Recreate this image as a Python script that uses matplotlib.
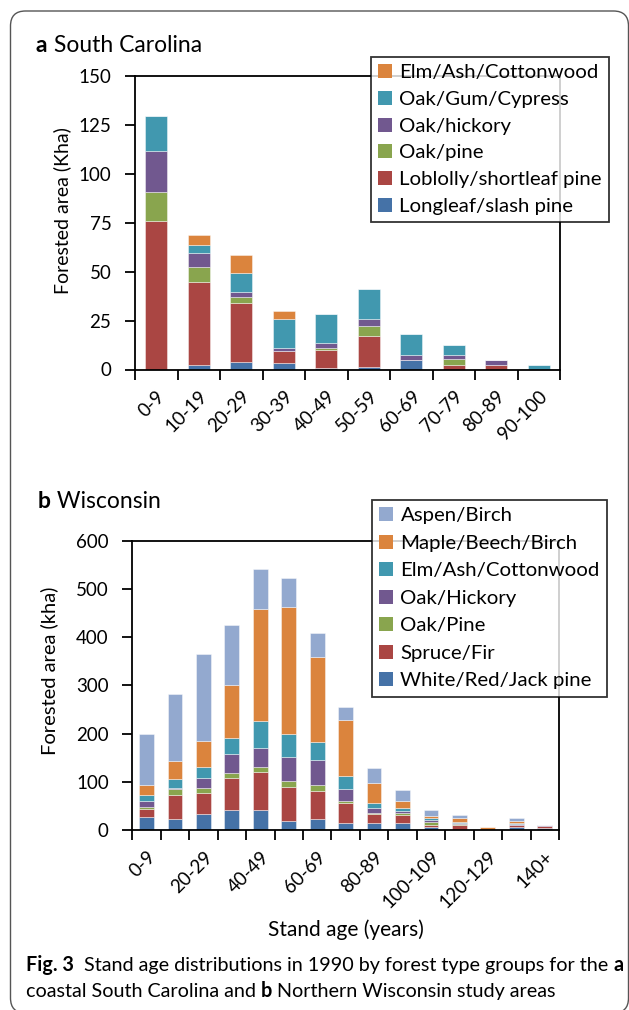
import matplotlib
matplotlib.use('Agg')
import matplotlib.pyplot as plt
from matplotlib.patches import FancyBboxPatch
from matplotlib.transforms import ScaledTranslation
import numpy as np

# South Carolina (panel a), values in Kha
sc_ages = ['0-9', '10-19', '20-29', '30-39', '40-49', '50-59', '60-69', '70-79', '80-89', '90-100']
sc_longleaf = [0, 2.5, 3.6, 3.1, 0.6, 1.2, 5.1, 0, 0, 0]
sc_loblolly = [76.1, 42.2, 30.4, 6.2, 9.6, 15.9, 0, 2.4, 2.4, 0]
sc_oak_pine = [14.5, 7.6, 3.0, 0, 1.0, 5.3, 0, 2.8, 0, 0]
sc_oak_hickory = [21.0, 7.3, 2.6, 1.6, 2.2, 3.2, 2.5, 2.4, 2.7, 0]
sc_oak_gum = [18.2, 4.1, 9.8, 14.9, 15.1, 15.3, 10.4, 5.0, 0, 2.5]
sc_elm_ash = [0, 4.8, 9.2, 3.9, 0, 0, 0, 0, 0, 0]

# Wisconsin (panel b), values in kha
wi_ages = ['0-9', '10-19', '20-29', '30-39', '40-49', '50-59', '60-69', '70-79',
           '80-89', '90-99', '100-109', '110-119', '120-129', '130-139', '140+']
wi_tick_labels = ['0-9', '', '20-29', '', '40-49', '', '60-69', '', '80-89', '',
                  '100-109', '', '120-129', '', '140+']
wi_pine = [26.3, 23.5, 32.5, 40.8, 40.8, 19.4, 22.1, 13.8, 13.8, 15.2, 6, 1, 0, 6, 4]
wi_spruce = [16.6, 48.4, 44.9, 67.7, 80.2, 70.5, 59.5, 41.5, 18.7, 15.9, 4, 10, 0, 4, 4.5]
wi_oak_pine = [4.1, 12.4, 10.4, 9.0, 10.3, 11.7, 11.7, 4.8, 2.1, 3.5, 7, 0.5, 0, 1, 0]
wi_oak_hickory = [13.8, 3.5, 19.3, 39.4, 39.4, 49.1, 51.9, 25.6, 11.7, 4.8, 4, 3, 0, 2, 1]
wi_elm_ash = [12.5, 17.3, 24.2, 34.6, 56.0, 47.7, 36.6, 25.6, 9.0, 6.2, 3, 1.5, 0, 1, 0]
wi_maple = [20.0, 38.7, 53.9, 109.9, 230.9, 264.7, 176.3, 116.1, 41.5, 15.2, 6, 9, 6.5, 5, 1.5]
wi_aspen = [105.8, 138.2, 179.1, 123.7, 84.3, 60.2, 50.4, 27.7, 31.1, 22.1, 12, 6, 0, 6, 0]

BLUE = '#4572A7'
RED = '#AA4643'
GREEN = '#89A54E'
PURPLE = '#71588F'
TEAL = '#4198AF'
ORANGE = '#DB843D'
LIGHTBLUE = '#93A9CF'

FONT = 'Lato'
plt.rcParams['font.family'] = [FONT, 'DejaVu Sans']

W, H = 629, 1010
fig = plt.figure(figsize=(W / 100, H / 100), dpi=100)
renderer = fig.canvas.get_renderer()


def px_axes(left, top, right, bottom):
    return fig.add_axes([left / W, 1 - bottom / H, (right - left) / W, (bottom - top) / H])


def stacked(ax, labels, series, colors, names):
    x = np.arange(len(labels))
    bottom = np.zeros(len(labels))
    handles = []
    for vals, col, name in zip(series, colors, names):
        vals = np.array(vals, dtype=float)
        b = ax.bar(x, vals, 0.52, bottom=bottom, color=col, edgecolor=(1, 1, 1, 0.6),
                   linewidth=0.5, label=name)
        handles.append(b)
        bottom += vals
    return handles


def style_axes(ax, n, tick_labels, ymax, ystep):
    ax.set_xlim(-0.5, n - 0.5)
    ax.set_ylim(0, ymax)
    ax.set_yticks(np.arange(0, ymax + 1, ystep))
    ax.set_xticks(np.arange(n + 1) - 0.5)
    ax.set_xticklabels([])
    ax.set_xticks(np.arange(n), minor=True)
    ax.set_xticklabels(tick_labels, minor=True, rotation=45, ha='right', va='top',
                       rotation_mode='anchor', fontsize=13.5)
    shift = ScaledTranslation(7 / 100, 0, fig.dpi_scale_trans)
    for lab in ax.get_xticklabels(minor=True):
        lab.set_transform(lab.get_transform() + shift)
    ax.tick_params(axis='x', which='minor', length=0, pad=13)
    ax.tick_params(axis='x', which='major', length=7, width=1.3, direction='out')
    ax.tick_params(axis='y', length=7, width=1.3, direction='out', labelsize=13.5, pad=10)
    for sp in ax.spines.values():
        sp.set_linewidth(1.3)
        sp.set_color('black')


def make_legend(ax, handles, right_px, top_px, spacing):
    leg = ax.legend(handles=handles[::-1], loc='upper right',
                    bbox_to_anchor=(right_px / W, 1 - top_px / H),
                    bbox_transform=fig.transFigure, fontsize=14.7, frameon=True,
                    fancybox=False, edgecolor='black', handlelength=0.7, handleheight=0.7,
                    handletextpad=0.35, labelspacing=spacing, borderpad=0.35,
                    borderaxespad=0)
    leg.get_frame().set_linewidth(1.3)
    for p in leg.get_patches():
        p.set_edgecolor('none')
    return leg


def rich_text(x_px, y_px, pieces, size, family):
    x = x_px
    for s, weight in pieces:
        t = fig.text(x / W, 1 - y_px / H, s, fontsize=size, fontweight=weight,
                     family=family, va='baseline', ha='left')
        x += t.get_window_extent(renderer).width


def fit_size(pieces, target_px, family, base=13.0):
    total = 0
    for s, weight in pieces:
        t = fig.text(0, 0, s, fontsize=base, fontweight=weight, family=family)
        total += t.get_window_extent(renderer).width
        t.remove()
    return base * target_px / total


# panel a
ax1 = px_axes(135, 76, 560, 369.5)
h1 = stacked(ax1, sc_ages,
             [sc_longleaf, sc_loblolly, sc_oak_pine, sc_oak_hickory, sc_oak_gum, sc_elm_ash],
             [BLUE, RED, GREEN, PURPLE, TEAL, ORANGE],
             ['Longleaf/slash pine', 'Loblolly/shortleaf pine', 'Oak/pine', 'Oak/hickory',
              'Oak/Gum/Cypress', 'Elm/Ash/Cottonwood'])
style_axes(ax1, len(sc_ages), sc_ages, 150, 25)
ax1.set_ylabel('Forested area (Kha)', fontsize=14, labelpad=5, y=0.54)
make_legend(ax1, h1, 609, 57, 0.46)

# panel b
ax2 = px_axes(132.3, 540.7, 559, 830)
h2 = stacked(ax2, wi_ages,
             [wi_pine, wi_spruce, wi_oak_pine, wi_oak_hickory, wi_elm_ash, wi_maple, wi_aspen],
             [BLUE, RED, GREEN, PURPLE, TEAL, ORANGE, LIGHTBLUE],
             ['White/Red/Jack pine', 'Spruce/Fir', 'Oak/Pine', 'Oak/Hickory',
              'Elm/Ash/Cottonwood', 'Maple/Beech/Birch', 'Aspen/Birch'])
style_axes(ax2, len(wi_ages), wi_tick_labels, 600, 100)
ax2.set_ylabel('Forested area (kha)', fontsize=14.5, labelpad=13, y=0.55)
ax2.set_xlabel('Stand age (years)', fontsize=15, labelpad=6)
make_legend(ax2, h2, 607, 500, 0.5)

# panel titles
rich_text(36, 52, [('a', 'bold'), (' South Carolina', 'normal')], 16.5, FONT)
rich_text(38, 508, [('b', 'bold'), (' Wisconsin', 'normal')], 16.5, FONT)

# caption, sized to span the same width as the original
cap1 = [('Fig. 3', 'bold'), ('  Stand age distributions in 1990 by forest type groups for the ', 'normal'),
        ('a', 'bold')]
cap2 = [('coastal South Carolina and ', 'normal'), ('b', 'bold'),
        (' Northern Wisconsin study areas', 'normal')]
cap_size = fit_size(cap1, 596, FONT)
rich_text(26, 971, cap1, cap_size, FONT)
rich_text(26, 997, cap2, cap_size, FONT)

# rounded outer frame
frame = FancyBboxPatch((10.5, -3), 618, 1002, boxstyle='round,pad=0,rounding_size=15',
                       transform=None, facecolor='none', edgecolor='#555555', linewidth=1.0)
fig.patches.append(frame)

fig.savefig('out.png', dpi=100)
